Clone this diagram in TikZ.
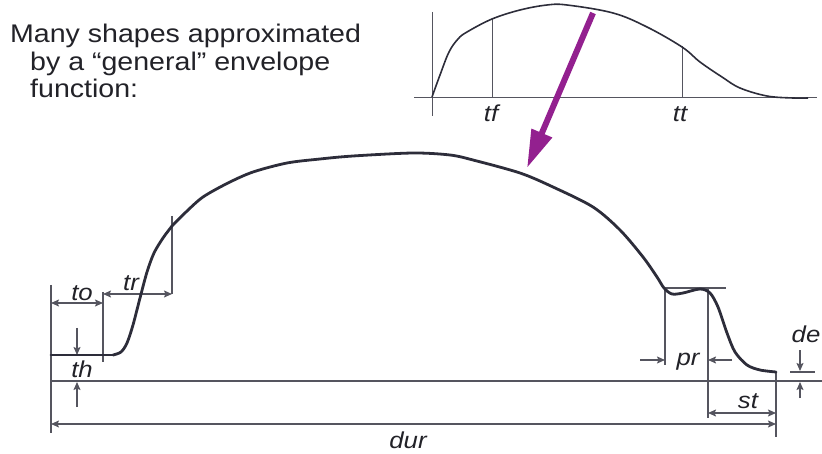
\documentclass[tikz,border=0pt]{standalone}
\usepackage{fontspec}
\setmainfont[FakeStretch=1.12]{Liberation Sans}
\usetikzlibrary{arrows.meta}
\definecolor{curvecol}{HTML}{2D2D3A}
\definecolor{dimcol}{HTML}{55555F}
\definecolor{txtcol}{HTML}{222228}
\definecolor{arrowpurple}{HTML}{93208F}
\tikzset{
  envcurve/.style={curvecol, line width=2.8pt, line join=round, line cap=round},
  thincurve/.style={curvecol, line width=1.6pt, line join=round},
  dimline/.style={dimcol, line width=1.3pt},
  axisline/.style={dimcol, line width=1pt},
  dimtip/.style={-{Stealth[length=8pt,width=7pt,inset=1.5pt]}},
  dimboth/.style={{Stealth[length=8pt,width=7pt,inset=1.5pt]}-{Stealth[length=8pt,width=7pt,inset=1.5pt]}},
  lbl/.style={font=\fontsize{23}{23}\selectfont\itshape, text=txtcol, anchor=base, inner sep=0pt},
  title/.style={font=\fontsize{25.5}{27}\selectfont, text=txtcol, anchor=base west, inner sep=0pt}
}
\begin{document}
\begin{tikzpicture}[x=1pt,y=-1pt]
\useasboundingbox (0,0) rectangle (822,454);
% title
\node[title] (t1) at (10,43) {Many shapes approximated};
\node[title] (t2) at (30,71) {by a “general” envelope};
\node[title] (t3) at (30,98) {function:};

% inset
\draw[axisline] (432,12) -- (432,116);
\draw[axisline] (414,98) -- (817,98);
\draw[axisline] (492,19) -- (492,98);
\draw[axisline] (682,46) -- (682,98);
\draw[thincurve] plot[smooth, tension=0.6] coordinates {(432,97) (440,75) (449,52) (458,39) (467,32) (492,19) (520,10) (547,5) (567,5) (613,13) (647,27) (682,47) (700,62) (722,77) (740,88) (767,96) (793,98) (808,98)};
\node[lbl] (tf) at (491,122) {tf};
\node[lbl] (tt) at (680,122) {tt};

% purple arrow
\coordinate (pa) at (593,13);
\coordinate (pb) at (527,168);
\draw[arrowpurple, line width=6pt, -{Triangle[length=38pt,width=21pt]}] (pa) -- (pb);

% dimension lines
\draw[dimline] (51,381) -- (822,381);
\draw[dimline] (51,285) -- (51,433);
\draw[dimline] (103,292) -- (103,362);
\draw[dimline] (172,216) -- (172,294);
\draw[dimline] (665,288) -- (665,365);
\draw[dimline] (664,288) -- (726,288);
\draw[dimline] (708,288) -- (708,418);
\draw[dimline] (776,372) -- (776,437);
\draw[dimline] (790,372) -- (815,372);

\draw[dimline, dimboth] (51,303) -- (103,303);
\draw[dimline, dimboth] (103,294) -- (172,294);
\draw[dimline, dimboth] (51,424) -- (776,424);
\draw[dimline, dimboth] (708,413) -- (776,413);
\draw[dimline, dimtip] (77,328) -- (77,355);
\draw[dimline, dimtip] (77,407) -- (77,382);
\draw[dimline, dimtip] (640,360) -- (665,360);
\draw[dimline, dimtip] (732,360) -- (708,360);
\draw[dimline, dimtip] (800,350) -- (800,371);
\draw[dimline, dimtip] (800,398) -- (800,382);

% main envelope
\draw[envcurve] (51,355) -- (113,355);
\draw[envcurve] plot[smooth, tension=0.5] coordinates {(113,355) (121,352) (127,343) (133,325) (140,298) (147,272) (154,253) (163,238) (172,226)};
\draw[envcurve] plot[smooth, tension=0.5] coordinates {(172,226) (186,212) (203,197) (228,183) (253,172) (287,163) (320,159) (353,156) (413,153) (450,155) (473,160) (520,173) (553,187) (593,207) (620,230) (643,257) (657,277) (664,288) (672,294) (683,293) (700,289) (710,293) (718,307) (727,333) (735,352) (747,365) (760,370) (776,372)};

% labels
\node[lbl] (to) at (82,301) {to};
\node[lbl] (tr) at (131,291) {tr};
\node[lbl] (th) at (82,377) {th};
\node[lbl] (pr) at (688,365) {pr};
\node[lbl] (st) at (748,408) {st};
\node[lbl] (de) at (806,342) {de};
\node[lbl] (dur) at (408,448) {dur};
\end{tikzpicture}
\end{document}
